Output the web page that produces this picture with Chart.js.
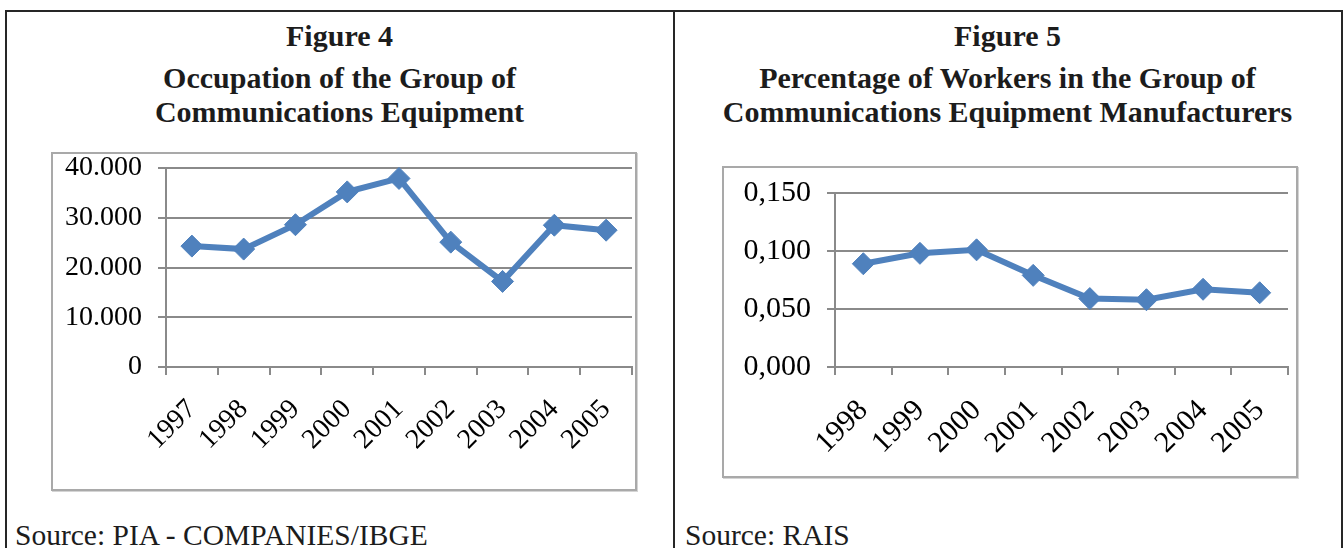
<!DOCTYPE html>
<html><head><meta charset="utf-8">
<script src="https://cdn.jsdelivr.net/npm/chart.js@4"></script>
<style>
html,body{margin:0;padding:0;background:#fff;width:1343px;height:548px;overflow:hidden;}
body{position:relative;}
.ln{position:absolute;background:#262626;}
.title{position:absolute;font-family:"Liberation Serif",serif;font-weight:bold;font-size:30px;line-height:30px;text-align:center;color:#1c1c1c;white-space:nowrap;}
.src{position:absolute;font-family:"Liberation Serif",serif;font-size:29.5px;line-height:29px;color:#1c1c1c;white-space:nowrap;}
.box{position:absolute;border:2px solid #a9a9a9;box-sizing:border-box;box-shadow:1px 1px 0 #d4d4d4;}
canvas{position:absolute;}
</style></head><body>
<div class="ln" style="left:5px;top:10px;width:1338px;height:2px"></div>
<div class="ln" style="left:5px;top:10px;width:2px;height:538px"></div>
<div class="ln" style="left:673px;top:10px;width:2px;height:538px"></div>
<div class="ln" style="left:1341px;top:10px;width:2px;height:538px"></div>

<div class="title" style="left:6px;width:667px;top:21px">Figure 4</div>
<div class="title" style="left:6px;width:667px;top:63px">Occupation of the Group of</div>
<div class="title" style="left:6px;width:667px;top:97px">Communications Equipment</div>

<div class="title" style="left:674px;width:667px;top:21px">Figure 5</div>
<div class="title" style="left:674px;width:667px;top:63px">Percentage of Workers in the Group of</div>
<div class="title" style="left:674px;width:667px;top:97px">Communications Equipment Manufacturers</div>

<div class="box" style="left:51px;top:152px;width:586px;height:339px"></div>
<div class="box" style="left:722px;top:166px;width:576px;height:312px"></div>
<canvas id="c4" width="582" height="335" style="left:53px;top:154px"></canvas>
<canvas id="c5" width="572" height="308" style="left:724px;top:168px"></canvas>

<div class="src" style="left:15px;top:521px">Source: PIA - COMPANIES/IBGE</div>
<div class="src" style="left:685px;top:521px">Source: RAIS</div>

<script>
// Figure 4 data
const years4 = ['1997','1998','1999','2000','2001','2002','2003','2004','2005'];
const occupation4 = [24300, 23700, 28600, 35200, 37900, 25100, 17200, 28500, 27500];
const yTickLabels4 = ['0','10.000','20.000','30.000','40.000'];
// Figure 5 data
const years5 = ['1998','1999','2000','2001','2002','2003','2004','2005'];
const share5 = [0.089, 0.098, 0.101, 0.079, 0.059, 0.058, 0.067, 0.064];
const yTickLabels5 = ['0,000','0,050','0,100','0,150'];

const BLUE = '#4F81BD';
const GRID = '#8a8a8a';

function makeChart(id, labels, values, yMax, yStep, yLabels, g) {
  new Chart(document.getElementById(id), {
    type: 'line',
    data: { labels: labels, datasets: [{
      data: values,
      borderColor: BLUE, backgroundColor: BLUE,
      borderWidth: 6, pointStyle: 'rectRot', pointRadius: g.pr,
      pointBackgroundColor: BLUE, pointBorderColor: BLUE, pointBorderWidth: 1,
      tension: 0, clip: false
    }]},
    options: {
      responsive: false, animation: false,
      plugins: { legend: { display: false }, tooltip: { enabled: false } },
      layout: { autoPadding: false, padding: { left: 0, right: g.pr_right, top: g.top, bottom: 0 } },
      scales: {
        x: {
          type: 'category', offset: true,
          grid: { drawOnChartArea: false, drawTicks: true, tickLength: 8, offset: true, color: GRID, lineWidth: 2 },
          border: { color: GRID, width: 2 },
          ticks: { autoSkip: false, minRotation: 45, maxRotation: 45, padding: g.xpad, color: '#000',
                   font: { family: 'Liberation Serif', size: g.fs } },
          afterFit: function(s) { s.height = g.xh; s.paddingLeft = 0; s.paddingRight = 0; }
        },
        y: {
          min: 0, max: yMax,
          grid: { color: GRID, lineWidth: 2, tickLength: 8 },
          border: { color: GRID, width: 2 },
          ticks: { stepSize: yStep, padding: 16, color: '#000',
                   font: { family: 'Liberation Serif', size: g.fs },
                   callback: function(v, i) { return yLabels[i]; } },
          afterFit: function(s) { s.width = g.yw; s.paddingTop = 0; s.paddingBottom = 0; }
        }
      }
    }
  });
}

makeChart('c4', years4, occupation4, 40000, 10000, yTickLabels4,
  { yw: 113, xh: 122, top: 14, pr_right: 3, fs: 28, xpad: 18, pr: 11 });
makeChart('c5', years5, share5, 0.15, 0.05, yTickLabels5,
  { yw: 111, xh: 109, top: 25, pr_right: 8, fs: 30, xpad: 18, pr: 11 });
</script>
</body></html>
